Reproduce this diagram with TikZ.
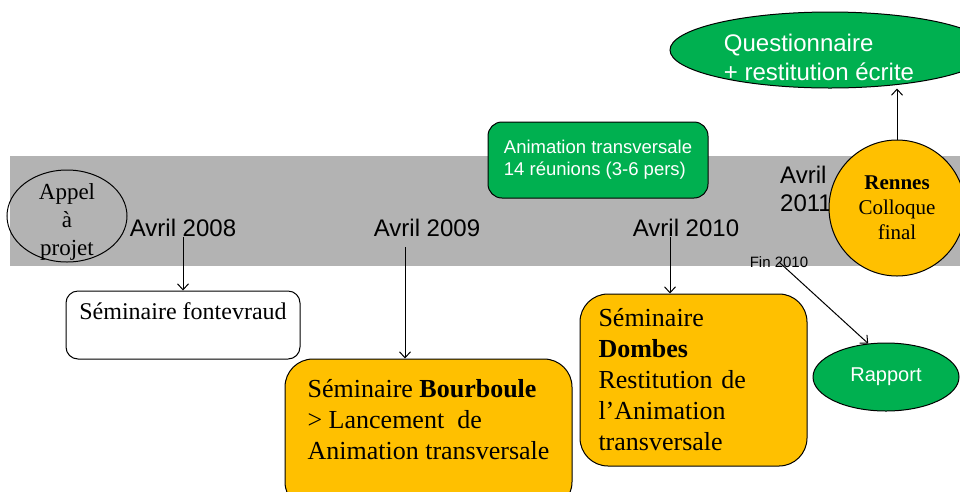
\documentclass[tikz,border=0pt]{standalone}
\usepackage{fontspec}
\setmainfont{Liberation Serif}
\setsansfont{Liberation Sans}
\usetikzlibrary{shapes.geometric,arrows.meta}
\definecolor{bandgray}{HTML}{B3B3B3}
\definecolor{boxgreen}{HTML}{00B050}
\definecolor{boxyellow}{HTML}{FFC000}

\begin{document}
\begin{tikzpicture}[x=1pt,y=-1pt,line width=1pt,
 >={Straight Barb[length=6pt,width=11pt]},
 date/.style={font=\sffamily\fontsize{24}{28}\selectfont,inner sep=0pt},
 yellow box/.style={rectangle,rounded corners=28pt,draw,fill=boxyellow,
   font=\fontsize{26}{31}\selectfont,align=left},
 green shape/.style={draw,fill=boxgreen,text=white,
   font=\sffamily\fontsize{24}{29}\selectfont,align=left,inner sep=0pt}]

  \useasboundingbox (0,0) rectangle (960,491);
  \fill[bandgray] (10,156) rectangle (960,266);

  \node[ellipse,draw,minimum width=120pt,minimum height=92pt,
   label={[font=\fontsize{23}{28}\selectfont,align=center,yshift=-6pt]center:Appel\\à\\projet}]
   (appel) at (67,216) {};

  \node[date] (a08) at (183,228) {Avril 2008};
  \node[date] (a09) at (427,228) {Avril 2009};
  \node[date] (a10) at (686,228) {Avril 2010};
  \node[date,align=left] (a11) at (806,189) {Avril\\2011};
  \node[font=\sffamily\fontsize{15}{18}\selectfont,inner sep=0pt] (fin) at (779,262) {Fin 2010};

  \node[green shape,rounded corners=14pt,font=\sffamily\fontsize{18.5}{22}\selectfont,
   minimum width=220pt,minimum height=76pt] (anim) at (598,160)
   {Animation transversale\\14 réunions (3-6 pers)};
  \node[green shape,ellipse,minimum width=320pt,minimum height=76pt,
   label={[text=white,font=\sffamily\fontsize{24}{29}\selectfont,align=left,
   xshift=-11pt,yshift=-7pt]center:Questionnaire\\+ restitution écrite}] (quest) at (830,50) {};
  \node[ellipse,draw,fill=boxyellow,inner sep=0pt,minimum size=136pt,align=center,
   font=\fontsize{21}{25}\selectfont] (rennes) at (897,208) {\textbf{Rennes}\\Colloque\\final};
  \node[green shape,ellipse,minimum width=146pt,minimum height=68pt,
   font=\sffamily\fontsize{20}{24}\selectfont] (rapport) at (886,377) {Rapport};

  \node[rectangle,rounded corners=12pt,draw,fill=white,minimum width=234pt,minimum height=68pt,
   font=\fontsize{24}{28}\selectfont,align=left] (fontev) at (183,325) {Séminaire fontevraud\\~};
  \node[yellow box,minimum width=287pt,minimum height=151pt] (bour) at (428.5,434.5)
   {Séminaire \textbf{Bourboule}\\> Lancement~ de\\Animation transversale\\~};
  \node[yellow box,text width=190pt,minimum width=227pt,minimum height=172pt] (dombes) at (693.5,380)
   {Séminaire\\\textbf{Dombes}\\Restitution de\\l’Animation\\transversale};

  \foreach \s/\t in {a08/fontev, fin.center/rapport.118} {
   \draw[->] (\s) -- (\t);}
  \draw[->] ([xshift=-22pt,yshift=-10pt]a09.south) -- ([xshift=-23.5pt]bour.north);
  \draw[->] ([xshift=-16pt]a10.south) -- ([xshift=-23.5pt]dombes.north);
  \draw[->] (rennes.north) -- (rennes.north |- quest.south);
\end{tikzpicture}
\end{document}
